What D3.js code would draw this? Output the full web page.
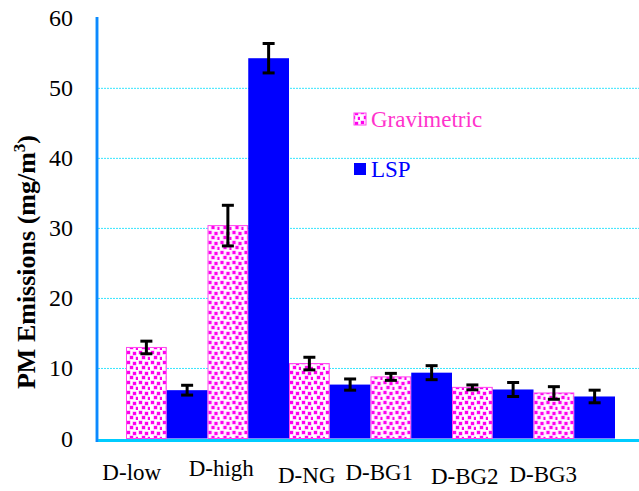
<!DOCTYPE html>
<html>
<head>
<meta charset="utf-8">
<script src="https://cdn.jsdelivr.net/npm/d3@7"></script>
<style>
  html, body { margin: 0; padding: 0; background: #fff; }
  svg { display: block; }
</style>
</head>
<body>
<svg id="chart" width="639" height="491"></svg>
<script>
// Sample runs
const categories = ["D-low", "D-high", "D-NG", "D-BG1", "D-BG2", "D-BG3"];
// PM emissions (mg/m3) by method
const gravimetric = [13.0, 30.4, 10.7, 8.8, 7.3, 6.5];
const gravimetricErr = [0.9, 2.9, 0.9, 0.5, 0.35, 0.9];
const lsp = [6.9, 54.3, 7.7, 9.4, 7.0, 6.0];
const lspErr = [0.7, 2.1, 0.8, 1.0, 1.0, 0.9];
const seriesNames = ["Gravimetric", "LSP"];
const yTicks = [0, 10, 20, 30, 40, 50, 60];

// Label nudges (px) for the staggered category labels
const labelDx = [-35, -27, -23, -32, -28, -31];
const labelDy = [0, -4, 3, 0, 4, 2];

const svg = d3.select("#chart");
const serif = "'Liberation Serif', 'Times New Roman', serif";

const x = d3.scaleBand().domain(categories).range([126, 615]).paddingInner(0).paddingOuter(0);
const xs = d3.scaleBand().domain(seriesNames).range([0, x.bandwidth()]).padding(0);
const y = d3.scaleLinear().domain([0, 60]).range([438.5, 18.3]);

// Dotted magenta fill for the gravimetric bars
const defs = svg.append("defs");
const pat = defs.append("pattern")
  .attr("id", "dots").attr("patternUnits", "userSpaceOnUse")
  .attr("width", 12).attr("height", 10);
pat.append("rect").attr("width", 12).attr("height", 10).attr("fill", "#fff");
[[1, 1], [7, 2], [4, 6], [10, 7]].forEach(([px, py]) => {
  pat.append("rect").attr("x", px - 0.5).attr("y", py - 0.5).attr("width", 4).attr("height", 4).attr("fill", "#ff99ff");
  pat.append("rect").attr("x", px).attr("y", py).attr("width", 3).attr("height", 3).attr("fill", "#ff00ee");
});

// Grid lines
svg.append("g").selectAll("line")
  .data(yTicks.filter(t => t > 0 && t < 60))
  .join("line")
  .attr("x1", 98).attr("x2", 639)
  .attr("y1", d => y(d)).attr("y2", d => y(d))
  .attr("stroke", "#33e6ff").attr("stroke-width", 1)
  .attr("stroke-dasharray", "2,1");

// Y tick labels
svg.append("g").selectAll("text")
  .data(yTicks)
  .join("text")
  .attr("x", 73).attr("y", d => y(d) + 8)
  .attr("text-anchor", "end")
  .attr("font-family", serif).attr("font-size", 24)
  .attr("fill", "#000")
  .text(d => d);

// Bars
const groups = svg.append("g").selectAll("g")
  .data(categories.map((c, i) => ({
    c,
    vals: [
      { s: "Gravimetric", v: gravimetric[i], e: gravimetricErr[i] },
      { s: "LSP", v: lsp[i], e: lspErr[i] }
    ]
  })))
  .join("g")
  .attr("transform", d => `translate(${x(d.c)},0)`);

groups.selectAll("rect")
  .data(d => d.vals)
  .join("rect")
  .attr("x", d => xs(d.s) + (d.s === "Gravimetric" ? 0.5 : 0))
  .attr("width", d => xs.bandwidth() - (d.s === "Gravimetric" ? 1 : 0))
  .attr("y", d => y(d.v))
  .attr("height", d => y(0) - y(d.v))
  .attr("fill", d => d.s === "Gravimetric" ? "url(#dots)" : "#0000ff")
  .attr("stroke", d => d.s === "Gravimetric" ? "#ff44ee" : "none")
  .attr("stroke-width", 1);

// Error bars
const eb = groups.selectAll("g.err")
  .data(d => d.vals)
  .join("g").attr("class", "err")
  .attr("stroke", "#000").attr("stroke-width", 3);
eb.append("line")
  .attr("x1", d => xs(d.s) + xs.bandwidth() / 2)
  .attr("x2", d => xs(d.s) + xs.bandwidth() / 2)
  .attr("y1", d => y(d.v + d.e)).attr("y2", d => y(d.v - d.e));
[1, -1].forEach(sign => {
  eb.append("line")
    .attr("x1", d => xs(d.s) + xs.bandwidth() / 2 - 6)
    .attr("x2", d => xs(d.s) + xs.bandwidth() / 2 + 6)
    .attr("y1", d => y(d.v + sign * d.e)).attr("y2", d => y(d.v + sign * d.e));
});

// Axes lines
svg.append("line").attr("x1", 97).attr("x2", 639).attr("y1", 440.5).attr("y2", 440.5)
  .attr("stroke", "#00ccff").attr("stroke-width", 3);
svg.append("line").attr("x1", 97).attr("x2", 97).attr("y1", 17).attr("y2", 442)
  .attr("stroke", "#1aa0ff").attr("stroke-width", 3);
svg.append("line").attr("x1", 97).attr("x2", 97).attr("y1", 17).attr("y2", 442)
  .attr("stroke", "#0070ff").attr("stroke-width", 1);

// Category labels
svg.append("g").selectAll("text")
  .data(categories)
  .join("text")
  .attr("x", (d, i) => x(d) + x.bandwidth() / 2 + labelDx[i])
  .attr("y", (d, i) => 480 + labelDy[i])
  .attr("text-anchor", "middle")
  .attr("font-family", serif).attr("font-size", 23)
  .attr("fill", "#000")
  .text(d => d);

// Y axis title
const title = svg.append("text")
  .attr("transform", "translate(35,262) rotate(-90)")
  .attr("text-anchor", "middle")
  .attr("font-family", serif).attr("font-size", 26).attr("font-weight", "bold")
  .attr("fill", "#000");
title.append("tspan").text("PM Emissions (mg/m");
title.append("tspan").attr("font-size", 17).attr("dy", -10).text("3");
title.append("tspan").attr("dy", 10).text(")");

// Legend
const legend = svg.append("g");
const legendColors = { Gravimetric: "#ff33cc", LSP: "#0000ff" };
seriesNames.forEach((s, i) => {
  const ly = 113 + i * 50;
  legend.append("rect")
    .attr("x", 354).attr("y", ly).attr("width", 12).attr("height", 12)
    .attr("fill", s === "Gravimetric" ? "url(#dots)" : "#0000ff")
    .attr("stroke", s === "Gravimetric" ? "#ff44ee" : "none");
  legend.append("text")
    .attr("x", 371).attr("y", ly + 14)
    .attr("font-family", serif).attr("font-size", 23)
    .attr("fill", legendColors[s])
    .text(s);
});
</script>
</body>
</html>
